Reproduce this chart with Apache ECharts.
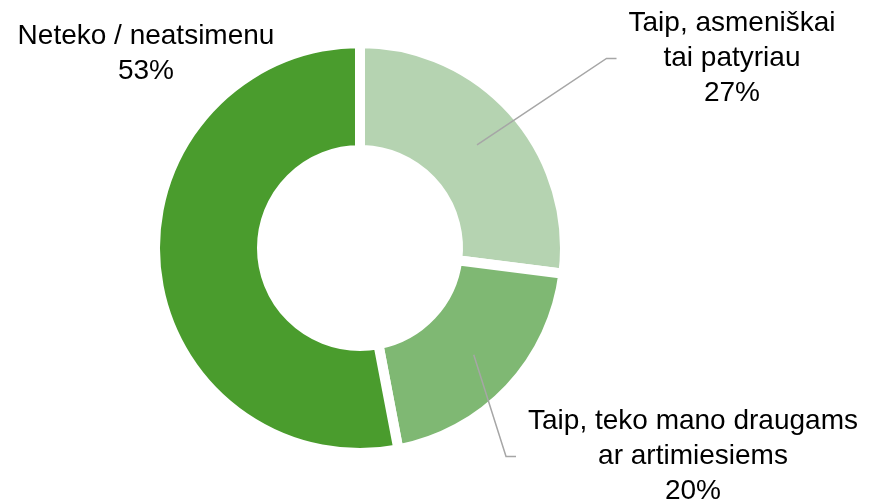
<!DOCTYPE html>
<html>
<head>
<meta charset="utf-8">
<script src="https://cdn.jsdelivr.net/npm/echarts@6/dist/echarts.min.js"></script>
<style>
  html, body { margin: 0; padding: 0; background: #fff; }
  #chart { width: 869px; height: 499px; }
</style>
</head>
<body>
<div id="chart"></div>
<script>
  // duomenys
  var categories = ['Taip, asmeniškai\ntai patyriau', 'Taip, teko mano draugams\nar artimiesiems', 'Neteko / neatsimenu'];
  var values = [27, 20, 53];
  var colors = ['#B5D3B1', '#7FB873', '#4A9C2D'];

  var cx = 360, cy = 248;
  // label placement (x = centre of text block, y = top)
  var labelPos = [
    { x: 732, y: 6 },
    { x: 693, y: 404 },
    { x: 146, y: 19 }
  ];

  var total = values.reduce(function (a, b) { return a + b; }, 0);
  function midAngle(i) {
    var acc = 0;
    for (var k = 0; k < i; k++) acc += values[k];
    return (acc + values[i] / 2) / total * Math.PI * 2;
  }

  var chart = echarts.init(document.getElementById('chart'));

  // ring itself
  var ringData = categories.map(function (name, i) {
    return { name: name, value: values[i], itemStyle: { color: colors[i] } };
  });
  // same slices, transparent, only to carry labels + leader lines above the ring
  var labelData = categories.map(function (name, i) {
    return { name: name, value: values[i], labelLine: { show: i !== 2 } };
  });

  chart.setOption({
    animation: false,
    series: [{
      type: 'pie',
      z: 2,
      silent: true,
      center: [cx, cy],
      radius: [98, 205],
      startAngle: 90,
      clockwise: true,
      itemStyle: { borderColor: '#fff', borderWidth: 10 },
      label: { show: false },
      labelLine: { show: false },
      data: ringData
    }, {
      type: 'pie',
      z: 5,
      silent: true,
      center: [cx, cy],
      radius: [98, 205],
      startAngle: 90,
      clockwise: true,
      avoidLabelOverlap: false,
      itemStyle: { color: 'rgba(0,0,0,0)', borderWidth: 0 },
      label: {
        show: true,
        position: 'outside',
        formatter: '{b}\n{d}%',
        fontFamily: 'Liberation Sans, Arial, sans-serif',
        fontSize: 28,
        lineHeight: 35,
        color: '#000',
        align: 'center'
      },
      labelLine: {
        show: true,
        length: 20,
        length2: 10,
        lineStyle: { color: '#A6A6A6', width: 1.5 }
      },
      labelLayout: function (params) {
        var i = params.dataIndex;
        var p = labelPos[i];
        var w = params.labelRect.width, h = params.labelRect.height;
        var a = midAngle(i);
        var sx = cx + 156 * Math.sin(a), sy = cy - 156 * Math.cos(a);
        var left = p.x - w / 2, my = p.y + h / 2;
        return {
          x: p.x, y: p.y, align: 'center', verticalAlign: 'top',
          labelLinePoints: [[sx, sy], [left - 22, my], [left - 12, my]]
        };
      },
      data: labelData
    }]
  });
</script>
</body>
</html>
